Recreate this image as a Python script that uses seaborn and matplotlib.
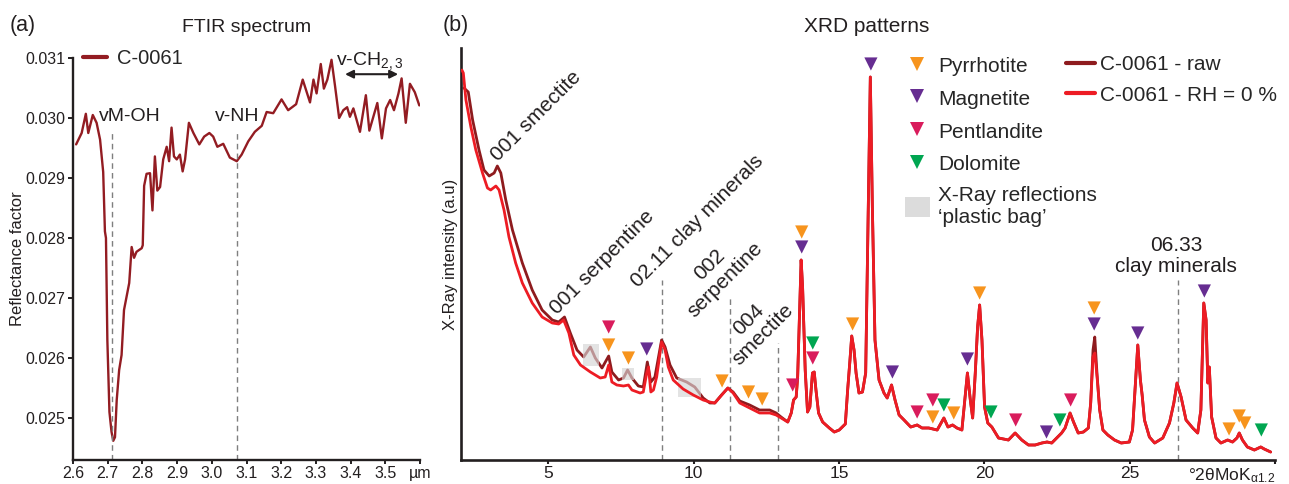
import matplotlib
matplotlib.use("Agg")
import matplotlib.pyplot as plt
import seaborn as sns
import pandas as pd
from matplotlib.lines import Line2D
from matplotlib.patches import Patch, Rectangle

# ---------------- data ----------------
# FTIR spectrum (wavelength in micrometres, reflectance factor)
ftir_um = [2.609, 2.625, 2.637, 2.644, 2.657, 2.668, 2.678, 2.687, 2.692, 2.695,
           2.699, 2.705, 2.711, 2.716, 2.721, 2.726, 2.733, 2.740, 2.747, 2.762,
           2.769, 2.776, 2.783, 2.798, 2.801, 2.805, 2.812, 2.822, 2.829, 2.836,
           2.843, 2.851, 2.860, 2.870, 2.877, 2.884, 2.891, 2.899, 2.908, 2.916,
           2.923, 2.934, 2.947, 2.964, 2.978, 2.993, 3.004, 3.016, 3.033, 3.052,
           3.072, 3.086, 3.105, 3.124, 3.144, 3.158, 3.177, 3.201, 3.220, 3.243,
           3.262, 3.283, 3.293, 3.302, 3.314, 3.323, 3.333, 3.345, 3.355, 3.367,
           3.379, 3.390, 3.398, 3.408, 3.427, 3.444, 3.454, 3.477, 3.490, 3.502,
           3.514, 3.525, 3.538, 3.547, 3.559, 3.571, 3.585, 3.598]
ftir_refl = [0.02956, 0.02975, 0.03007, 0.02975, 0.03005, 0.02992, 0.02964, 0.02910, 0.02811, 0.02800,
             0.02630, 0.02510, 0.02477, 0.02462, 0.02468, 0.02530, 0.02580, 0.02605, 0.02680, 0.02725,
             0.02785, 0.02767, 0.02777, 0.02783, 0.02788, 0.02887, 0.02907, 0.02908, 0.02846, 0.02936,
             0.02879, 0.02885, 0.02931, 0.02952, 0.02928, 0.02984, 0.02936, 0.02931, 0.02939, 0.02911,
             0.02931, 0.02992, 0.02975, 0.02956, 0.02969, 0.02975, 0.02969, 0.02952, 0.02957, 0.02934,
             0.02928, 0.02939, 0.02961, 0.02977, 0.02987, 0.03010, 0.03008, 0.03031, 0.03013, 0.03023,
             0.03064, 0.03026, 0.03064, 0.03041, 0.03090, 0.03049, 0.03064, 0.03097, 0.03054, 0.03000,
             0.03013, 0.03018, 0.03002, 0.03016, 0.02977, 0.03038, 0.02979, 0.03025, 0.02966, 0.03016,
             0.03030, 0.03013, 0.03041, 0.03066, 0.02992, 0.03057, 0.03043, 0.03021]
ftir_marks_um = [2.713, 3.072]
ftir_mark_labels = ["vM-OH", "v-NH"]
ftir_label_um = [2.764, 3.073]

# XRD pattern, RH = 0 %  (degrees 2-theta MoK, intensity a.u.)
rh0_2theta = [2.03, 2.08, 2.17, 2.34, 2.51, 2.74, 2.91, 3.02, 3.20, 3.31,
              3.48, 3.65, 3.88, 4.11, 4.45, 4.79, 5.14, 5.36, 5.53, 5.71,
              5.88, 6.11, 6.45, 6.79, 6.96, 7.08, 7.19, 7.36, 7.59, 7.76,
              7.88, 8.16, 8.27, 8.39, 8.45, 8.53, 8.62, 8.73, 8.90, 9.02,
              9.13, 9.30, 9.64, 9.99, 10.33, 10.56, 10.73, 10.91, 11.18, 11.36,
              11.59, 11.93, 12.27, 12.62, 12.84, 13.01, 13.24, 13.36, 13.44, 13.53,
              13.58, 13.64, 13.70, 13.75, 13.84, 13.92, 14.00, 14.09, 14.15, 14.21,
              14.30, 14.44, 14.67, 14.84, 15.01, 15.22, 15.30, 15.38, 15.44, 15.52,
              15.59, 15.69, 15.81, 15.92, 16.01, 16.08, 16.15, 16.24, 16.38, 16.55,
              16.66, 16.81, 16.93, 17.07, 17.24, 17.47, 17.69, 17.86, 18.09, 18.38,
              18.61, 18.75, 18.91, 19.06, 19.23, 19.33, 19.42, 19.52, 19.60, 19.69,
              19.77, 19.84, 19.92, 20.01, 20.12, 20.26, 20.49, 20.83, 21.06, 21.29,
              21.52, 21.75, 21.98, 22.16, 22.32, 22.49, 22.66, 22.78, 22.95, 23.07,
              23.23, 23.41, 23.58, 23.66, 23.74, 23.80, 23.88, 23.97, 24.08, 24.25,
              24.48, 24.71, 24.99, 25.10, 25.19, 25.28, 25.37, 25.43, 25.51, 25.68,
              25.86, 26.14, 26.37, 26.52, 26.63, 26.77, 26.94, 27.17, 27.34, 27.45,
              27.55, 27.63, 27.69, 27.74, 27.82, 27.97, 28.14, 28.37, 28.54, 28.69,
              28.77, 28.88, 29.05, 29.29, 29.51, 29.63, 29.85]
rh0_int = [390, 387, 360, 333, 310, 287, 272, 270, 274, 270,
           250, 223, 197, 177, 157, 143, 137, 136, 140, 127,
           105, 95, 88, 82, 83, 95, 78, 75, 74, 75,
           70, 67, 68, 87, 93, 68, 70, 83, 118, 110,
           93, 80, 71, 65, 60, 58, 57, 63, 72, 67,
           57, 52, 47, 47, 45, 42, 38, 47, 60, 63,
           83, 140, 200, 173, 90, 48, 53, 87, 88, 70,
           47, 38, 32, 28, 30, 36, 70, 100, 124, 110,
           87, 67, 68, 87, 253, 383, 253, 120, 80, 67,
           62, 75, 60, 45, 40, 33, 35, 32, 32, 30,
           42, 33, 35, 32, 30, 60, 87, 60, 42, 87,
           133, 155, 120, 53, 37, 33, 22, 20, 27, 20,
           15, 15, 17, 18, 17, 22, 27, 32, 47, 38,
           27, 28, 32, 57, 103, 107, 83, 50, 30, 25,
           20, 17, 18, 30, 73, 115, 80, 65, 40, 23,
           17, 22, 37, 57, 77, 63, 40, 32, 27, 50,
           157, 140, 77, 93, 43, 22, 17, 20, 18, 22,
           27, 20, 13, 10, 13, 11, 8]

# XRD pattern, raw sample
raw_2theta = [2.10, 2.25, 2.40, 2.62, 2.79, 2.97, 3.14, 3.25, 3.37, 3.54,
              3.77, 4.11, 4.45, 4.79, 5.14, 5.36, 5.56, 5.76, 5.99, 6.22,
              6.45, 6.62, 6.85, 7.08, 7.19, 7.42, 7.59, 7.73, 7.88, 8.10,
              8.27, 8.41, 8.53, 8.67, 8.90, 9.02, 9.19, 9.42, 9.76, 10.04,
              10.33, 10.56, 10.73, 10.96, 11.18, 11.36, 11.59, 11.93, 12.27, 12.62,
              12.84, 13.01, 13.24, 13.36, 13.44, 13.53, 13.58, 13.64, 13.70, 13.75,
              13.84, 13.92, 14.00, 14.09, 14.15, 14.21, 14.30, 14.44, 14.67, 14.84,
              15.01, 15.22, 15.30, 15.38, 15.44, 15.52, 15.59, 15.69, 15.81, 15.92,
              16.01, 16.08, 16.15, 16.24, 16.38, 16.55, 16.66, 16.81, 16.93, 17.07,
              17.24, 17.47, 17.69, 17.86, 18.09, 18.38, 18.61, 18.75, 18.91, 19.06,
              19.23, 19.33, 19.42, 19.52, 19.60, 19.69, 19.77, 19.84, 19.92, 20.01,
              20.12, 20.26, 20.49, 20.83, 21.06, 21.29, 21.52, 21.75, 21.98, 22.16,
              22.32, 22.49, 22.66, 22.78, 22.95, 23.07, 23.23, 23.41, 23.58, 23.66,
              23.74, 23.80, 23.88, 23.97, 24.08, 24.25, 24.48, 24.71, 24.99, 25.10,
              25.19, 25.28, 25.37, 25.43, 25.51, 25.68, 25.86, 26.14, 26.37, 26.52,
              26.63, 26.77, 26.94, 27.17, 27.34, 27.45, 27.55, 27.63, 27.69, 27.74,
              27.82, 27.97, 28.14, 28.37, 28.54, 28.69, 28.77, 28.88, 29.05, 29.29,
              29.51, 29.63, 29.85]
raw_int = [372, 368, 340, 310, 290, 284, 287, 294, 287, 260,
           230, 197, 170, 150, 140, 138, 143, 127, 110, 103,
           113, 102, 92, 104, 88, 80, 82, 90, 82, 74,
           73, 98, 78, 83, 120, 113, 95, 82, 78, 73,
           62, 57, 57, 65, 72, 68, 59, 55, 50, 50,
           47, 43, 38, 47, 60, 63, 83, 140, 200, 173,
           90, 48, 53, 87, 88, 70, 47, 38, 32, 28,
           30, 36, 70, 100, 124, 110, 87, 67, 68, 87,
           253, 383, 253, 120, 80, 67, 62, 75, 60, 45,
           40, 33, 35, 32, 32, 30, 42, 33, 35, 32,
           30, 60, 87, 60, 42, 87, 133, 155, 120, 53,
           37, 33, 22, 20, 27, 20, 15, 15, 17, 18,
           17, 22, 27, 32, 47, 38, 27, 28, 32, 57,
           110, 123, 85, 50, 30, 25, 20, 17, 18, 30,
           73, 115, 80, 65, 40, 23, 17, 22, 37, 57,
           77, 63, 40, 32, 27, 50, 157, 140, 77, 93,
           43, 22, 17, 20, 18, 22, 27, 20, 13, 10,
           13, 11, 8]

# Mineral reflections (marker positions)
mark_mineral = ["Pentlandite", "Pyrrhotite", "Pyrrhotite", "Magnetite", "Pyrrhotite",
                "Pyrrhotite", "Pyrrhotite", "Pentlandite", "Pyrrhotite", "Magnetite",
                "Dolomite", "Pentlandite", "Pyrrhotite", "Magnetite", "Magnetite",
                "Pentlandite", "Pentlandite", "Pyrrhotite", "Dolomite", "Pyrrhotite",
                "Magnetite", "Pyrrhotite", "Dolomite", "Pentlandite", "Magnetite",
                "Dolomite", "Pentlandite", "Pyrrhotite", "Magnetite", "Magnetite",
                "Magnetite", "Pyrrhotite", "Pyrrhotite", "Pyrrhotite", "Dolomite"]
mark_2theta = [7.08, 7.08, 7.76, 8.39, 10.98,
               11.89, 12.36, 13.41, 13.72, 13.72,
               14.10, 14.10, 15.47, 16.10, 16.84,
               17.69, 18.23, 18.23, 18.61, 18.95,
               19.42, 19.84, 20.23, 21.08, 22.14,
               22.60, 22.97, 23.78, 23.78, 25.28,
               27.57, 28.42, 28.77, 28.96, 29.53]
mark_int = [133, 115, 102, 111, 79,
            68, 61, 75, 228, 213,
            117, 102, 136, 396, 88,
            48, 60, 43, 55, 47,
            101, 167, 48, 40, 28,
            40, 60, 152, 136, 127,
            169, 31, 44, 37, 30]

minerals = ["Pyrrhotite", "Magnetite", "Pentlandite", "Dolomite"]
mineral_colors = ["#F7941D", "#662D91", "#D91C5C", "#00A651"]

# 'plastic bag' reflections (2theta start, end, intensity low, high)
bag_start = [6.20, 7.53, 9.47]
bag_end = [6.73, 7.96, 10.24]
bag_low = [94, 80, 63]
bag_high = [116, 92, 82]

# reference lines with labels
ref_2theta = [8.90, 11.24, 12.91, 26.66]
ref_top = [180, 165, 117, 180]

# ---------------- style ----------------
sns.set_style("ticks")
plt.rcParams["font.family"] = ["Liberation Sans", "DejaVu Sans"]
plt.rcParams["mathtext.fontset"] = "custom"
plt.rcParams["mathtext.rm"] = "Liberation Sans"
plt.rcParams["mathtext.it"] = "Liberation Sans:italic"
plt.rcParams["mathtext.bf"] = "Liberation Sans:bold"

TXT = "#231F20"
FTIR_COLOR = "#931C22"
RAW_COLOR = "#8E1B1E"
RH_COLOR = "#ED1C24"
GRID_GREY = "#7F7F7F"

W, H = 1289, 484
fig = plt.figure(figsize=(W / 100, H / 100), dpi=100)
axL = fig.add_axes([73 / W, 24 / H, 347 / W, 402 / H])
axR = fig.add_axes([461 / W, 24 / H, 814 / W, 412 / H])

# ---------------- (a) FTIR ----------------
ftir_df = pd.DataFrame({"um": ftir_um, "refl": ftir_refl})
sns.lineplot(data=ftir_df, x="um", y="refl", ax=axL, color=FTIR_COLOR, lw=1.7,
             estimator=None, sort=False, legend=False)
axL.set_xlim(2.6, 3.6)
axL.set_ylim(0.0243, 0.031)
axL.vlines(ftir_marks_um, 0.0243, 0.02975, colors=GRID_GREY, linestyles=(0, (4, 3)), lw=1.0)
for xm, lab in zip(ftir_label_um, ftir_mark_labels):
    axL.text(xm, 0.03002, lab, ha="center", va="center", fontsize=14, color=TXT)
axL.annotate("", xy=(3.537, 0.03073), xytext=(3.384, 0.03073),
             arrowprops=dict(arrowstyle="<|-|>", color=TXT, lw=1.5, mutation_scale=12,
                             shrinkA=0, shrinkB=0))
axL.text(3.456, 0.03095, "v-CH$_{2,3}$", ha="center", va="center", fontsize=14, color=TXT)

xt = [2.6, 2.7, 2.8, 2.9, 3.0, 3.1, 3.2, 3.3, 3.4, 3.5, 3.6]
axL.set_xticks(xt)
axL.set_xticklabels([f"{v:.1f}" for v in xt[:-1]] + ["µm"])
yt = [0.025, 0.026, 0.027, 0.028, 0.029, 0.030, 0.031]
axL.set_yticks(yt)
axL.set_yticklabels([f"{v:.3f}" for v in yt])
axL.tick_params(axis="x", labelsize=11.5, length=3, width=1.4, colors=TXT, pad=1.5)
axL.tick_params(axis="y", labelsize=11.5, length=3.5, width=1.4, colors=TXT, pad=2)
axL.set_xlabel("")
axL.set_ylabel("Reflectance factor", fontsize=12, color=TXT, labelpad=0.5)
sns.despine(ax=axL)
for s in ["left", "bottom"]:
    axL.spines[s].set_linewidth(1.7)
    axL.spines[s].set_color(TXT)

axL.legend(handles=[Line2D([0], [0], color=FTIR_COLOR, lw=3)], labels=["C-0061"],
           loc="upper left", bbox_to_anchor=(83 / W, 1 - 49 / H), bbox_transform=fig.transFigure,
           fontsize=14.5, handlelength=1.2, handletextpad=0.5, frameon=False,
           borderpad=0, borderaxespad=0)

# ---------------- (b) XRD ----------------
raw_df = pd.DataFrame({"tt": raw_2theta, "I": raw_int})
rh_df = pd.DataFrame({"tt": rh0_2theta, "I": rh0_int})
sns.lineplot(data=raw_df, x="tt", y="I", ax=axR, color=RAW_COLOR, lw=2.0,
             estimator=None, sort=False, legend=False, zorder=2)
for x0, x1, y0, y1 in zip(bag_start, bag_end, bag_low, bag_high):
    axR.add_patch(Rectangle((x0, y0), x1 - x0, y1 - y0, facecolor="#D4D4D4",
                            edgecolor="none", alpha=0.65, zorder=3))
sns.lineplot(data=rh_df, x="tt", y="I", ax=axR, color=RH_COLOR, lw=2.0,
             estimator=None, sort=False, legend=False, zorder=4)

mk_df = pd.DataFrame({"tt": mark_2theta, "I": mark_int, "mineral": mark_mineral})
sns.scatterplot(data=mk_df, x="tt", y="I", hue="mineral", hue_order=minerals,
                palette=mineral_colors, marker="v", s=90, linewidth=0, legend=False,
                ax=axR, zorder=5)

axR.vlines(ref_2theta, 0, ref_top, colors=GRID_GREY, linestyles=(0, (4, 3)), lw=1.0, zorder=1)

axR.text(4.58, 344, "001 smectite", rotation=45, rotation_mode="anchor",
         ha="center", va="center", fontsize=15, color=TXT)
axR.text(6.86, 198, "001 serpentine", rotation=45, rotation_mode="anchor",
         ha="center", va="center", fontsize=15, color=TXT)
axR.text(10.12, 239, "02.11 clay minerals", rotation=45, rotation_mode="anchor",
         ha="center", va="center", fontsize=15, color=TXT)
axR.text(10.82, 188, "002\nserpentine", rotation=45, rotation_mode="anchor",
         ha="center", va="center", multialignment="center", fontsize=15, color=TXT,
         linespacing=1.15)
axR.text(12.14, 133, "004\nsmectite", rotation=45, rotation_mode="anchor",
         ha="center", va="center", multialignment="center", fontsize=15, color=TXT,
         linespacing=1.15)
axR.text(26.60, 204, "06.33\nclay minerals", ha="center", va="center",
         multialignment="center", fontsize=15, color=TXT, linespacing=1.1)

axR.set_xlim(2, 30)
axR.set_ylim(0, 412)
axR.set_xticks([5, 10, 15, 20, 25, 30])
axR.set_xticklabels(["5", "10", "15", "20", "25", r"°2θMoK$_{\mathregular{α1.2}}$"])
axR.get_xticklabels()[-1].set_ha("right")
axR.get_xticklabels()[-1].set_fontsize(12.5)
axR.set_yticks([])
axR.tick_params(axis="x", labelsize=12.5, length=3, width=1.5, colors=TXT, pad=1.5)
axR.set_xlabel("")
axR.set_ylabel("X-Ray intensity (a.u)", fontsize=12, color=TXT, labelpad=2)
sns.despine(ax=axR)
for s in ["left", "bottom"]:
    axR.spines[s].set_linewidth(1.9)
    axR.spines[s].set_color(TXT)

min_handles = [Line2D([0], [0], marker="v", ls="none", color=c, markersize=10,
                      markeredgewidth=0) for c in mineral_colors]
min_handles.append(Patch(facecolor="#DCDCDC", edgecolor="none"))
leg1 = axR.legend(handles=min_handles,
                  labels=minerals + ["X-Ray reflections\n‘plastic bag’"],
                  loc="upper left", bbox_to_anchor=(905 / W, 1 - 55 / H),
                  bbox_transform=fig.transFigure, frameon=False, fontsize=15,
                  handlelength=1.2, handleheight=1.1, handletextpad=0.4,
                  labelspacing=0.56, borderpad=0, borderaxespad=0)
axR.add_artist(leg1)
axR.legend(handles=[Line2D([0], [0], color=RAW_COLOR, lw=3),
                    Line2D([0], [0], color=RH_COLOR, lw=3)],
           labels=["C-0061 - raw", "C-0061 - RH = 0 %"],
           loc="upper left", bbox_to_anchor=(1066 / W, 1 - 55 / H),
           bbox_transform=fig.transFigure, frameon=False, fontsize=15,
           handlelength=1.4, handletextpad=0.25, labelspacing=0.56,
           borderpad=0, borderaxespad=0)

# titles and panel labels
fig.text(247 / W, 1 - 27 / H, "FTIR spectrum", ha="center", va="center", fontsize=14, color=TXT)
fig.text(867 / W, 1 - 27 / H, "XRD patterns", ha="center", va="center", fontsize=15, color=TXT)
fig.text(10 / W, 1 - 25 / H, "(a)", ha="left", va="center", fontsize=15.5, color=TXT)
fig.text(443 / W, 1 - 25 / H, "(b)", ha="left", va="center", fontsize=15.5, color=TXT)

fig.savefig("out.png", dpi=100)
